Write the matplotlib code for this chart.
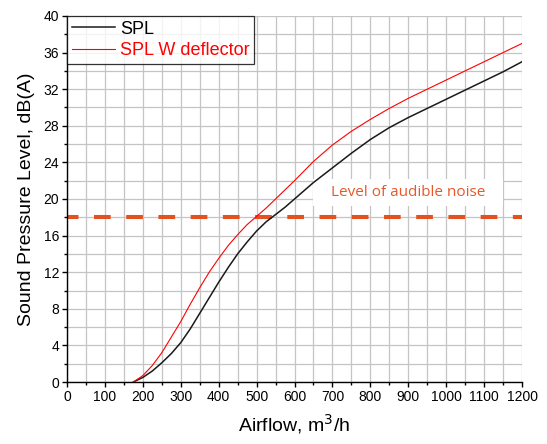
import numpy as np
import matplotlib
matplotlib.use('Agg')
import matplotlib.pyplot as plt
from matplotlib.ticker import MultipleLocator
from matplotlib.patches import Rectangle

plt.rcParams['font.family'] = ['Liberation Sans', 'DejaVu Sans']

# airflow, m3/h
airflow = [175, 200, 225, 250, 275, 300, 325, 350, 375, 400, 425, 450, 475, 500,
           525, 550, 575, 600, 650, 700, 750, 800, 850, 900, 950, 1000,
           1050, 1100, 1150, 1200]
# sound pressure level, dB(A)
spl = [0, 0.5, 1.2, 2.1, 3.1, 4.3, 5.8, 7.5, 9.2, 10.9, 12.5, 14.0, 15.3, 16.5,
       17.5, 18.3, 19.1, 20.0, 21.8, 23.4, 25.0, 26.5, 27.8, 28.9, 29.9, 30.9,
       31.9, 32.9, 33.9, 35.0]
spl_deflector = [0, 0.7, 1.8, 3.2, 4.9, 6.6, 8.5, 10.3, 12.0, 13.5, 14.9, 16.1, 17.2, 18.1,
                 19.0, 20.0, 21.0, 22.0, 24.1, 25.9, 27.4, 28.7, 29.9, 31.0, 32.0, 33.0,
                 34.0, 35.0, 36.0, 37.0]
audible_level = 18

fig = plt.figure(figsize=(5.47, 4.44), dpi=100)
ax = fig.add_axes([67/547, 62/444, 455/547, 366/444])

ax.set_xlim(0, 1200)
ax.set_ylim(0, 40)
ax.xaxis.set_major_locator(MultipleLocator(100))
ax.xaxis.set_minor_locator(MultipleLocator(50))
ax.yaxis.set_major_locator(MultipleLocator(4))
ax.yaxis.set_minor_locator(MultipleLocator(2))
ax.grid(which='both', color='#c4c4c4', lw=0.9, zorder=0)
ax.set_axisbelow(True)

for s in ['top', 'right']:
    ax.spines[s].set_visible(False)
for s in ['left', 'bottom']:
    ax.spines[s].set_linewidth(1.0)
ax.tick_params(which='major', direction='out', length=3.6, width=1.0, labelsize=10, pad=2)
ax.tick_params(which='minor', direction='out', length=2.2, width=1.0)

# label box over the grid
ax.add_patch(Rectangle((649, 19.25), 501, 2.95, facecolor='white', edgecolor='none', zorder=1.5))
ax.text(900, 20.75, 'Level of audible noise', family='Open Sans', fontsize=11,
        color='#e8572a', ha='center', va='center', zorder=3)

ax.plot([0, 1200], [audible_level, audible_level], color='#e4501e', lw=2.9,
        ls=(1.3, (4.15, 3.85)), zorder=2)

ax.plot(airflow, spl, color='#1a1a1a', lw=1.1, label='SPL', zorder=4)
ax.plot(airflow, spl_deflector, color='red', lw=0.8, label='SPL W deflector', zorder=4)

leg = ax.legend(loc='upper left', fontsize=13, borderaxespad=0, borderpad=0.25,
                handlelength=2.4, handletextpad=0.3, labelspacing=0.25, fancybox=False)
leg.get_frame().set_edgecolor('black')
leg.get_frame().set_linewidth(0.9)
for t in leg.get_texts():
    if t.get_text() == 'SPL W deflector':
        t.set_color('red')

ax.set_xlabel(r'Airflow, m$^3$/h', fontsize=14, labelpad=6)
ax.set_ylabel('Sound Pressure Level, dB(A)', fontsize=14, labelpad=6)

fig.savefig('out.png', dpi=100)
